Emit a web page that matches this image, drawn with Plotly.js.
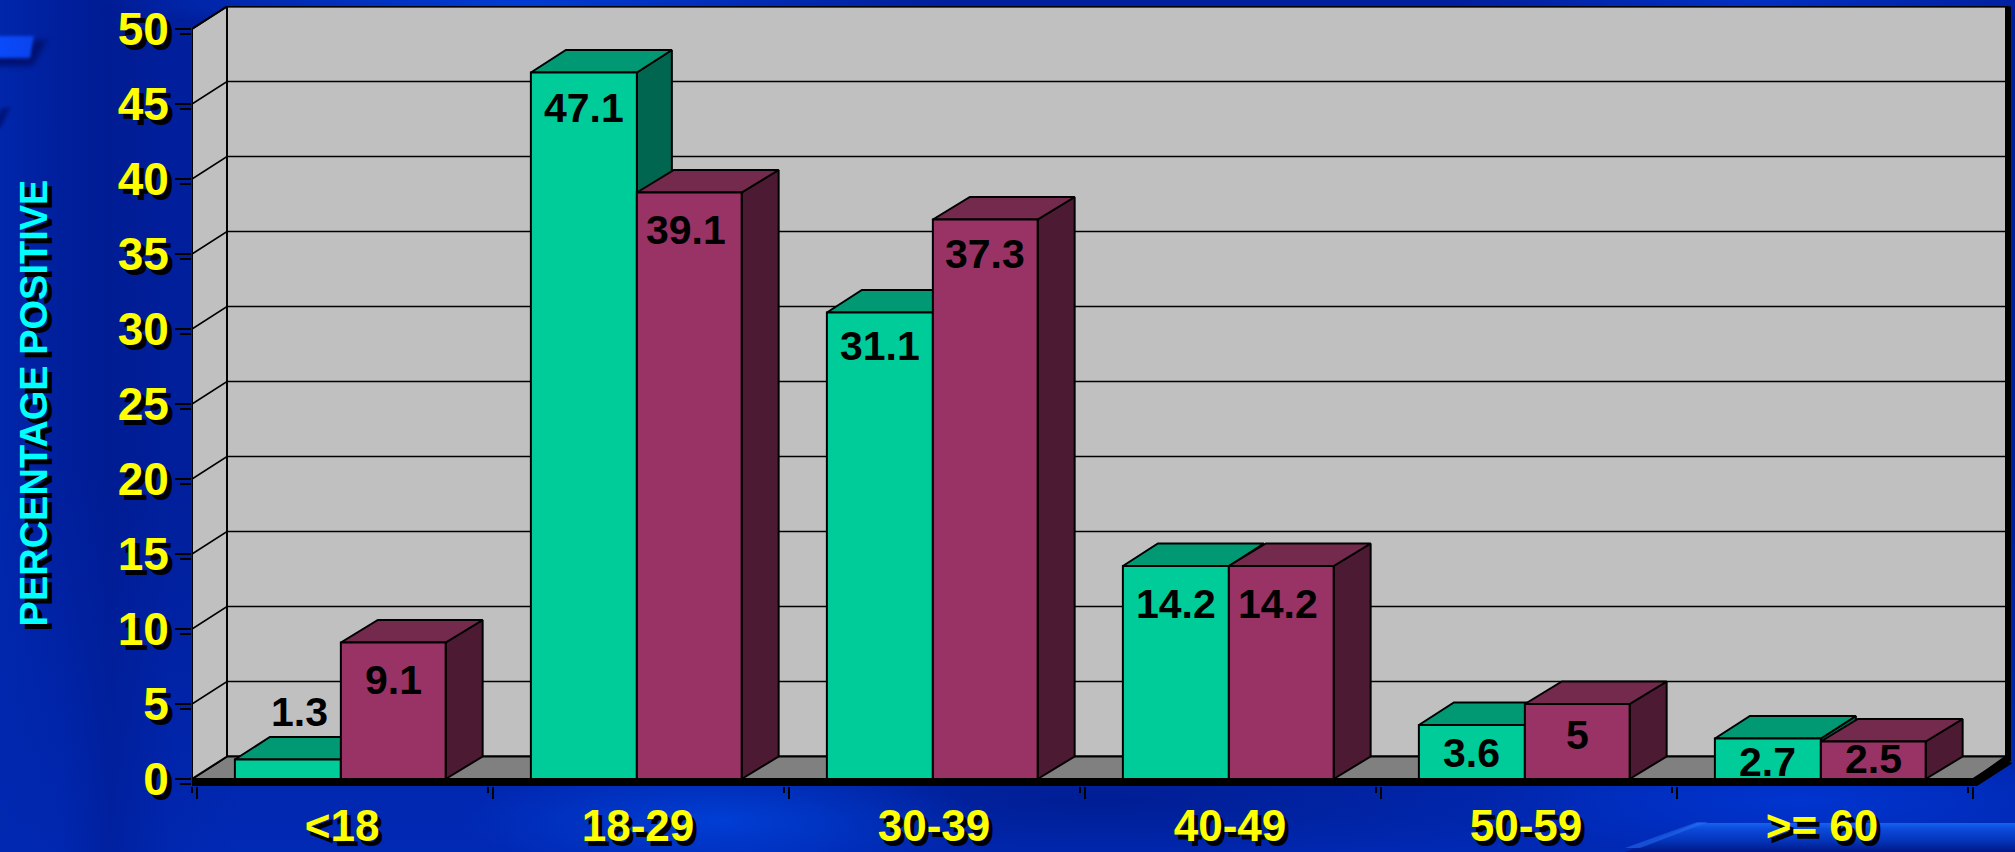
<!DOCTYPE html>
<html>
<head>
<meta charset="utf-8">
<script src="https://cdn.plot.ly/plotly-3.0.1.min.js"></script>
<style>
html,body{margin:0;padding:0;width:2015px;height:852px;overflow:hidden;background:#00209c;}
#bg{position:absolute;left:0;top:0;width:2015px;height:852px;overflow:hidden;
background:
 radial-gradient(ellipse 260px 60px at 720px 820px, rgba(0,70,225,.75), rgba(0,70,225,0) 100%),
 radial-gradient(ellipse 420px 30px at 520px 2px, rgba(0,70,230,.75), rgba(0,70,230,0) 100%),
 radial-gradient(ellipse 300px 30px at 1750px 2px, rgba(0,60,220,.6), rgba(0,60,220,0) 100%),
 radial-gradient(ellipse 500px 70px at 1100px 800px, rgba(0,24,130,.6), rgba(0,24,130,0) 100%),
 radial-gradient(ellipse 320px 60px at 1800px 800px, rgba(0,56,215,.8), rgba(0,56,215,0) 100%),
 linear-gradient(90deg, rgba(0,40,175,.8) 0, rgba(0,32,160,.2) 60px, rgba(0,25,140,.5) 110px, rgba(0,30,155,.2) 170px, rgba(0,0,0,0) 240px),
 linear-gradient(180deg, #001f9c 0, #001f9a 55%, #0029b4 100%);}
#s1d{position:absolute;left:-10px;top:40px;width:50px;height:26px;background:#001070;transform:skewX(-28deg);filter:blur(3px);}
#s1{position:absolute;left:-10px;top:36px;width:42px;height:22px;background:linear-gradient(90deg,#0a4cff,#0a44ee);filter:blur(1.5px);transform:skewX(-10deg);}
#s4{position:absolute;left:-3px;top:108px;width:8px;height:20px;background:#001278;transform:skewX(-25deg);filter:blur(2px);}
#s2{position:absolute;left:0;top:0;width:2015px;height:852px;
 clip-path:polygon(1697px 823px,2015px 823px,2015px 852px,1625px 852px);
 background:linear-gradient(180deg, rgba(0,0,0,0) 823px, #1464f0 823px, #0c4ada 829px, #0436bc 840px, #001888 852px);filter:blur(.6px);}
#s5{position:absolute;left:0;top:0;width:2015px;height:852px;
 clip-path:polygon(1697px 822px,1708px 822px,1640px 848px,1625px 848px);background:rgba(40,110,240,.55);filter:blur(1px);}
#chart{position:absolute;left:0;top:0;width:2015px;height:852px;}
</style>
</head>
<body>
<div id="bg"><div id="s1d"></div><div id="s1"></div><div id="s4"></div><div id="s2"></div><div id="s5"></div></div>
<div id="chart"></div>
<script>
// ---- data ----
var categories = ['<18', '18-29', '30-39', '40-49', '50-59', '>= 60'];
var greenValues = [1.3, 47.1, 31.1, 14.2, 3.6, 2.7];
var maroonValues = [9.1, 39.1, 37.3, 14.2, 5, 2.5];
var greenLabels = ['1.3', '47.1', '31.1', '14.2', '3.6', '2.7'];
var maroonLabels = ['9.1', '39.1', '37.3', '14.2', '5', '2.5'];
var yTicks = [0, 5, 10, 15, 20, 25, 30, 35, 40, 45, 50];

// ---- label nudges (px from bar top, + = upward) ----
var greenLabelShift = [48, -35, -33, -38, -28, -23];
var maroonLabelShift = [-37, -37, -34, -38, -31, -17];
var greenLabelXShift = [12, 0, 0, 0, 0, 0];
var maroonLabelXShift = [0, -3, 0, -3, 0, 0];

// ---- geometry ----
var PXX = 296, PXY = 15;            // px per category / per percent
var depthX = 35 / PXX, depthY = 1.5; // faux-3D depth in axis units
var depthXM = 37 / PXX;
var gOff = 0.128, gW = 0.358, mOff = 0.486, mW = 0.354;
var labelOff = 0.49;
var xLeft = -5 / PXX, xEnd = 6;
var xRange = [xLeft, xLeft + 1823 / PXX];
var yRange = [-21 / PXY, -21 / PXY + 794 / PXY];
var idx = categories.map(function (c, i) { return i; });
var yMax = 50;

var BLK = '#000';
function poly(list) {
  var x = [], y = [];
  list.forEach(function (p, n) {
    if (n) { x.push(null); y.push(null); }
    p.concat([p[0]]).forEach(function (q) { x.push(q[0]); y.push(q[1]); });
  });
  return { x: x, y: y };
}
function faceTrace(list, fill, lw) {
  var p = poly(list);
  return { type: 'scatter', mode: 'lines', x: p.x, y: p.y, fill: 'toself', fillcolor: fill,
    line: { color: BLK, width: lw === undefined ? 2 : lw }, cliponaxis: false, hoverinfo: 'skip', showlegend: false };
}
function topFaces(vals, off, w, dx) {
  return vals.map(function (v, i) {
    var a = i + off, b = a + w;
    return [[a, v], [b, v], [b + dx, v + depthY], [a + dx, v + depthY]];
  });
}
function sideFaces(vals, off, w, dx) {
  return vals.map(function (v, i) {
    var b = i + off + w;
    return [[b, 0], [b + dx, depthY], [b + dx, v + depthY], [b, v]];
  });
}
var wallR = xEnd + depthX;
var backWall = faceTrace([[[xLeft + depthX, depthY], [wallR, depthY], [wallR, yMax + depthY], [xLeft + depthX, yMax + depthY]]], '#c0c0c0', 2);
var leftWall = faceTrace([[[xLeft, 0], [xLeft + depthX, depthY], [xLeft + depthX, yMax + depthY], [xLeft, yMax]]], '#c0c0c0', 2);
var floor = faceTrace([[[xLeft, 0], [xEnd, 0], [wallR, depthY], [xLeft + depthX, depthY]]], '#808080', 2);

var gx = [], gy = [];
yTicks.forEach(function (t) {
  if (t === 0) return;
  gx.push(xLeft, xLeft + depthX, wallR, null);
  gy.push(t, t + depthY, t + depthY, null);
});
var grid = { type: 'scatter', mode: 'lines', x: gx, y: gy, line: { color: BLK, width: 1.6 }, cliponaxis: false, hoverinfo: 'skip', showlegend: false };

var band = faceTrace([[[xLeft, 0], [xEnd, 0], [wallR - 4 / PXX, depthY], [wallR + 4 / PXX, depthY - 7 / PXY], [xEnd + 4 / PXX, -7 / PXY], [xLeft, -7 / PXY]]], BLK, 0);
var rightEdge = { type: 'scatter', mode: 'lines', x: [wallR, wallR], y: [depthY - 0.3, yMax + depthY], line: { color: BLK, width: 6 }, cliponaxis: false, hoverinfo: 'skip', showlegend: false };

var traces = [
  backWall, floor, leftWall, grid, rightEdge, band,
  faceTrace(sideFaces(greenValues, gOff, gW, depthX), '#006650'),
  faceTrace(topFaces(greenValues, gOff, gW, depthX), '#009973'),
  faceTrace(sideFaces(maroonValues, mOff, mW, depthXM), '#4d1a33'),
  faceTrace(topFaces(maroonValues, mOff, mW, depthXM), '#732a4d'),
  { type: 'bar', name: 'Green', x: idx, y: greenValues, xaxis: 'x2', yaxis: 'y2', offset: gOff, width: gW,
    marker: { color: '#00cc99', line: { color: BLK, width: 2 } }, cliponaxis: false, hoverinfo: 'skip', showlegend: false },
  { type: 'bar', name: 'Maroon', x: idx, y: maroonValues, xaxis: 'x2', yaxis: 'y2', offset: mOff, width: mW,
    marker: { color: '#993366', line: { color: BLK, width: 2 } }, cliponaxis: false, hoverinfo: 'skip', showlegend: false },
  { type: 'scatter', mode: 'none', x: [0], y: [0], xaxis: 'x3', yaxis: 'y3', hoverinfo: 'skip', showlegend: false }
];

function lab(text, x, y, shift, xs) {
  return { text: '<b>' + text + '</b>', xref: 'x2', yref: 'y2', x: x, y: y, yshift: shift, xshift: xs, showarrow: false,
    xanchor: 'center', yanchor: 'middle', font: { family: 'Liberation Sans, Arial, sans-serif', size: 41, color: '#000' } };
}
var annotations = [];
idx.forEach(function (i) {
  annotations.push(lab(greenLabels[i], i + gOff + gW / 2, greenValues[i], greenLabelShift[i], greenLabelXShift[i]));
  annotations.push(lab(maroonLabels[i], i + mOff + mW / 2, maroonValues[i], maroonLabelShift[i], maroonLabelXShift[i]));
});

var axisPos = 14 / 794;
var FAM = 'Liberation Sans, Arial, sans-serif';
var layout = {
  width: 2015, height: 852,
  margin: { l: 192, r: 0, t: 6, b: 52, pad: 0 },
  paper_bgcolor: 'rgba(0,0,0,0)', plot_bgcolor: 'rgba(0,0,0,0)',
  barmode: 'overlay', showlegend: false, annotations: annotations,
  xaxis: { range: xRange, anchor: 'free', position: axisPos, tickmode: 'array',
    tickvals: idx.map(function (i) { return i + labelOff; }), ticktext: categories,
    ticks: '', ticklen: 0, showgrid: false, zeroline: false, showline: false, ticklabelstandoff: 10,
    tickfont: { family: FAM, size: 44, weight: 700, color: '#ffff00', shadow: '4px 5px 0 #000' } },
  yaxis: { range: yRange, tickmode: 'array', tickvals: yTicks, ticks: 'outside', ticklen: 16, tickwidth: 1.5, tickcolor: BLK,
    showgrid: false, zeroline: false, showline: false, ticklabelstandoff: -3,
    tickfont: { family: FAM, size: 46, weight: 700, color: '#ffff00', shadow: '5px 5px 0 #000' },
    title: { text: 'PERCENTAGE POSITIVE', standoff: 58,
      font: { family: FAM, size: 38, weight: 700, color: '#00ffff', shadow: '-5px 5px 0 #000' } } },
  xaxis2: { range: xRange, overlaying: 'x', anchor: 'free', position: axisPos, tickmode: 'array', tickvals: [0, 1, 2, 3, 4, 5, 6],
    ticktext: ['', '', '', '', '', '', ''], ticks: 'outside', ticklen: 12, tickwidth: 1.5, tickcolor: BLK,
    showgrid: false, zeroline: false, showline: false, showticklabels: false },
  yaxis2: { range: yRange, overlaying: 'y', anchor: 'x', showgrid: false, zeroline: false, showline: false, ticks: '', showticklabels: false },
  xaxis3: { range: [xRange[0] + 5 / PXX, xRange[1] + 5 / PXX], overlaying: 'x', anchor: 'free', position: axisPos, tickmode: 'array',
    tickvals: [0, 1, 2, 3, 4, 5, 6], ticks: 'outside', ticklen: 6, tickwidth: 1.5, tickcolor: BLK,
    showgrid: false, zeroline: false, showline: false, showticklabels: false },
  yaxis3: { range: [yRange[0] + 5 / PXY, yRange[1] + 5 / PXY], overlaying: 'y', anchor: 'x', tickmode: 'array', tickvals: yTicks,
    ticks: 'outside', ticklen: 11, tickwidth: 1.5, tickcolor: BLK, showgrid: false, zeroline: false, showline: false, showticklabels: false }
};
Plotly.newPlot('chart', traces, layout, { displayModeBar: false, staticPlot: true }).then(function () {
  // the axis title's shadow is not always forwarded by the font attr
  var t = document.querySelector('.ytitle');
  if (t) t.style.textShadow = '-5px 5px 0 #000';
});
</script>
</body>
</html>
